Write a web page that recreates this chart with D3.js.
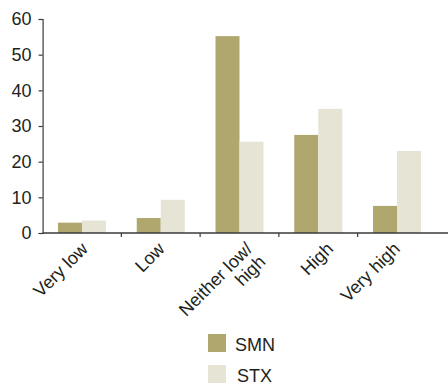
<!DOCTYPE html>
<html><head><meta charset="utf-8">
<script src="https://cdn.jsdelivr.net/npm/d3@7"></script>
<style>body{margin:0;background:#fff;}svg{display:block;font-family:Arial,"Liberation Sans",sans-serif;}</style>
</head><body><svg id="c" width="448" height="384"></svg>
<script>
const categories = [["Very low"], ["Low"], ["Neither low/", "high"], ["High"], ["Very high"]];
const seriesNames = ["SMN", "STX"];
const smn = [2.9, 4.2, 55.2, 27.5, 7.6];
const stx = [3.5, 9.3, 25.6, 34.8, 23.0];
const yTicks = [0, 10, 20, 30, 40, 50, 60];
const colors = ["#b0a76f", "#e6e4d5"];

(function () {
const svg = d3.select("#c");
const mLeft = 42.6, mRight = 436.4, mTop = 19, mBottom = 233;
const ids = categories.map((d, i) => i);
const x = d3.scaleBand().domain(ids).range([mLeft, mRight]).paddingInner(0).paddingOuter(0);
const y = d3.scaleLinear().domain([0, 60]).range([mBottom, mTop]);
const barW = 24;
const series = [smn, stx];
// small per-label nudges along x, matching the original layout
const labelNudge = [7, 5, 14, 16, 4];

series.forEach((vals, s) => {
  svg.append("g").selectAll("rect").data(vals).join("rect")
    .attr("x", (d, i) => x(i) + x.bandwidth() / 2 - barW + s * barW)
    .attr("width", barW)
    .attr("y", d => y(d))
    .attr("height", d => y(0) - y(d))
    .attr("fill", colors[s]);
});

const axisColor = "#3a3a3a";
const textColor = "#231f20";
const ya = svg.append("g").attr("transform", `translate(${mLeft},0)`)
  .call(d3.axisLeft(y).tickValues(yTicks).tickSize(4).tickPadding(7));
ya.select(".domain").attr("stroke", axisColor).attr("stroke-width", 1.2);
ya.selectAll(".tick line").attr("stroke", axisColor).attr("stroke-width", 1.2);
ya.selectAll("text").attr("font-size", 18).attr("fill", textColor).attr("font-family", "Arial, 'Liberation Sans', sans-serif");

svg.append("line").attr("x1", mLeft).attr("x2", 448).attr("y1", y(0)).attr("y2", y(0))
  .attr("stroke", axisColor).attr("stroke-width", 1.5);
svg.append("g").selectAll("line").data(ids.slice(1)).join("line")
  .attr("x1", d => x(d)).attr("x2", d => x(d))
  .attr("y1", y(0)).attr("y2", y(0) + 4)
  .attr("stroke", axisColor).attr("stroke-width", 1.2);

const lab = svg.append("g").selectAll("text").data(categories).join("text")
  .attr("transform", (d, i) => `translate(${x(i) + x.bandwidth() / 2 + labelNudge[i]},250) rotate(-45)`)
  .attr("text-anchor", "end")
  .attr("font-size", 18).attr("fill", textColor);
lab.each(function(d) {
  const t = d3.select(this);
  d.forEach((line, k) => {
    t.append("tspan").attr("x", 0).attr("dy", k === 0 ? 0 : "1.02em").text(line);
  });
});

const lg = svg.append("g");
seriesNames.forEach((name, s) => {
  lg.append("rect").attr("x", 208).attr("y", 334 + s * 31).attr("width", 18).attr("height", 18).attr("fill", colors[s]);
  lg.append("text").attr("x", 235 + s * 2).attr("y", 351 + s * 31).attr("font-size", 18).attr("fill", textColor).text(name);
});
})();
</script></body></html>
